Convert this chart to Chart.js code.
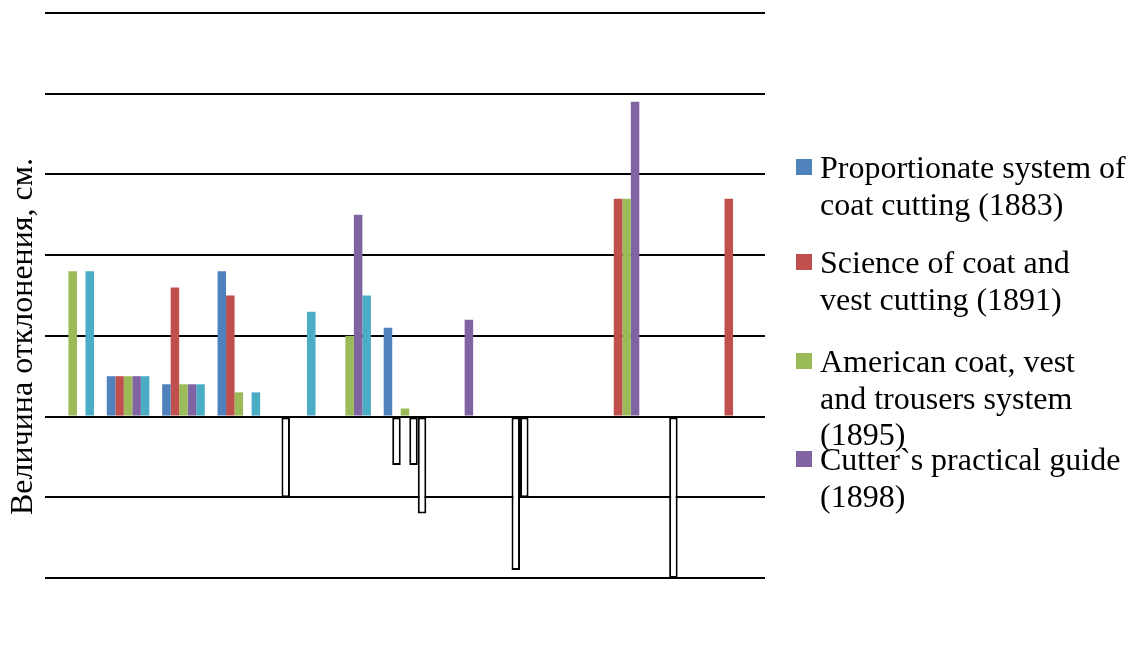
<!DOCTYPE html>
<html>
<head>
<meta charset="utf-8">
<title>Величина отклонения</title>
<script src="https://cdn.jsdelivr.net/npm/chart.js@4/dist/chart.umd.min.js"></script>
<style>
    html, body { margin: 0; padding: 0; background: #fff; }
    #wrap { position: relative; width: 1128px; height: 658px; overflow: hidden; }
    #deviationChart { position: absolute; left: 0; top: 0; }
    #legend { position: absolute; left: 796px; top: 0; font-family: "Liberation Serif", "Times New Roman", serif; font-size: 32px; line-height: 36.8px; color: #000; }
    #legend .item { position: absolute; left: 0; width: 330px; }
    #legend .box { position: absolute; left: 0; top: 10px; width: 16px; height: 16px; }
    #legend .txt { position: absolute; left: 24px; top: 0; white-space: pre; }
</style>
</head>
<body>
<div id="wrap">
    <canvas id="deviationChart" width="1128" height="658"></canvas>
    <div id="legend"></div>
</div>
<script>
// categories (13 measurement points, no labels shown on the axis)
const categories = ['1', '2', '3', '4', '5', '6', '7', '8', '9', '10', '11', '12', '13'];

// deviation, cm
const proportionate = [null, 0.5, 0.4, 1.8, null, null, 1.1, null, null, null, null, null, null];
const scienceCoat   = [null, 0.5, 1.6, 1.5, -1.0, null, -0.6, null, null, null, 2.7, -2.0, 2.7];
const americanCoat  = [1.8, 0.5, 0.4, 0.3, null, 1.0, 0.1, null, -1.9, null, 2.7, null, null];
const cuttersGuide  = [null, 0.5, 0.4, null, null, 2.5, -0.6, 1.2, -1.0, null, 3.9, null, null];
const fifthSystem   = [1.8, 0.5, 0.4, 0.3, 1.3, 1.5, -1.2, null, null, null, null, null, null];

// legend names (fifth series is cut off in the original legend)
const seriesNames = [
    'Proportionate system of\ncoat cutting (1883)',
    'Science of coat and\nvest cutting (1891)',
    'American coat, vest\nand trousers system\n(1895)',
    'Cutter`s practical guide\n(1898)',
    null
];
const seriesColors = ['#4F81BD', '#C0504D', '#9BBB59', '#8064A2', '#4BACC6'];
const yTitle = 'Величина отклонения, см.';
const yMin = -2, yMax = 5, yStep = 1;

const seriesData = [proportionate, scienceCoat, americanCoat, cuttersGuide, fifthSystem];

// negative values drawn as white bars with black outline
const datasets = seriesData.map((values, i) => ({
    label: seriesNames[i] || '',
    data: values,
    backgroundColor: ctx => (ctx.raw < 0 ? '#ffffff' : seriesColors[i]),
    borderColor: ctx => (ctx.raw < 0 ? '#000000' : seriesColors[i]),
    borderWidth: ctx => (ctx.raw < 0 ? 2 : 0),
    borderSkipped: false,
    barPercentage: 1.0,
    categoryPercentage: 5 / 6.5
}));

// rotated axis title, placed like the original (a bit below the plot middle)
const axisTitlePlugin = {
    id: 'axisTitle',
    afterDraw(chart) {
        const ctx = chart.ctx;
        ctx.save();
        ctx.translate(31.5, 336.5);
        ctx.rotate(-Math.PI / 2);
        ctx.font = '32px "Liberation Serif", "Times New Roman", serif';
        ctx.fillStyle = '#000';
        ctx.textAlign = 'center';
        ctx.textBaseline = 'alphabetic';
        ctx.fillText(yTitle, 0, 0);
        ctx.restore();
    }
};

const ctx = document.getElementById('deviationChart').getContext('2d');
const chart = new Chart(ctx, {
    type: 'bar',
    data: { labels: categories, datasets: datasets },
    options: {
        responsive: false,
        animation: false,
        layout: { padding: { left: 45, right: 363, top: 13, bottom: 72 } },
        plugins: {
            legend: { display: false },
            tooltip: { enabled: false }
        },
        scales: {
            x: {
                ticks: { display: false },
                grid: { display: false },
                border: { display: false }
            },
            y: {
                min: yMin,
                max: yMax,
                ticks: { display: false, stepSize: yStep },
                grid: { color: '#000000', lineWidth: 2, drawTicks: false },
                border: { display: false }
            }
        }
    },
    plugins: [axisTitlePlugin]
});

// HTML legend built from the datasets
const baselines = [178, 273, 372, 470];
const legendEl = document.getElementById('legend');
let slot = 0;
chart.data.datasets.forEach((ds, i) => {
    if (!seriesNames[i]) return;
    const item = document.createElement('div');
    item.className = 'item';
    item.style.top = (baselines[slot] - 29.2) + 'px';
    const box = document.createElement('div');
    box.className = 'box';
    box.style.background = seriesColors[i];
    const txt = document.createElement('div');
    txt.className = 'txt';
    txt.textContent = seriesNames[i];
    item.appendChild(box);
    item.appendChild(txt);
    legendEl.appendChild(item);
    slot++;
});
</script>
</body>
</html>
